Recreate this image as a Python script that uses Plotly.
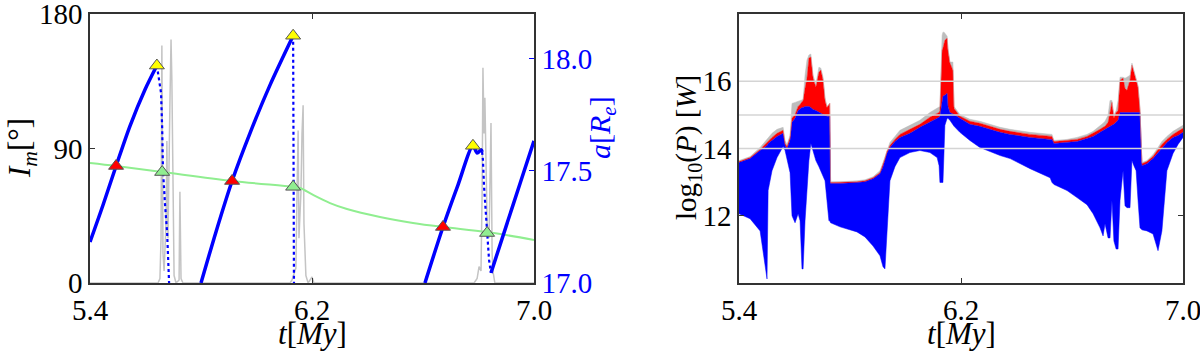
import plotly.graph_objects as go

# ---------------- Left panel data ----------------
# blue curve (semi-major axis a [R_e]) - rising branches
blue_rise_t = [5.400, 5.447, 5.494, 5.544, 5.598, 5.641, None,
               5.800, 5.854, 5.912, 5.977, 6.049, 6.132, None,
               6.607, 6.672, 6.726, 6.780, 6.795, 6.810, 6.813, None,
               6.845, 6.900, 6.950, 7.000]
blue_rise_a = [17.183, 17.348, 17.522, 17.700, 17.862, 17.970, None,
               17.000, 17.228, 17.455, 17.670, 17.884, 18.103, None,
               17.000, 17.250, 17.437, 17.612, 17.580, 17.594, 17.585, None,
               17.045, 17.255, 17.445, 17.634]
# blue curve - fast falling branches (dotted)
blue_fall_t = [5.641, 5.656, 5.660, 5.663, 5.670, 5.678, 5.685, None,
               6.132, 6.135, None,
               6.813, 6.816, 6.820, 6.827, 6.831, 6.838, 6.845]
blue_fall_a = [17.970, 17.848, 17.696, 17.504, 17.357, 17.223, 17.000, None,
               18.103, 17.000, None,
               17.585, 17.549, 17.429, 17.281, 17.214, 17.103, 17.045]

# green curve (I_m in degrees)
green_t = [5.400, 5.494, 5.660, 5.912, 6.132, 6.157, 6.204, 6.265, 6.326,
           6.445, 6.564, 6.672, 6.831, 7.000]
green_deg = [80.3, 78.3, 74.3, 68.3, 64.3, 63.6, 58.9, 53.5, 49.5,
             44.2, 40.2, 37.5, 34.1, 28.8]

# gray spikes (degrees)
gray_t = [5.400, 5.645, 5.652, 5.656, 5.659, 5.663, 5.667, 5.674, 5.677, 5.681,
          5.688, 5.692, 5.695, 5.699, 5.703, 5.710, 5.721, 5.724, 5.728, 5.735,
          6.121, 6.128, 6.142, 6.146, 6.150, 6.153, 6.160, 6.164, 6.168, 6.171,
          6.178, 6.186, 6.200, 6.207,
          6.784, 6.795, 6.802, 6.809, 6.813, 6.816, 6.820, 6.823, 6.827, 6.831,
          6.838, 6.841, 6.845, 6.849, 6.852, 6.859, 7.000]
gray_deg = [0, 0, 3, 30, 159, 20, 8, 40, 95, 30,
            120, 163, 136, 40, 5, 0, 2, 61, 3, 0,
            0, 2, 10, 60, 102, 30, 60, 100, 119, 40,
            5, 0, 4, 0,
            0, 3, 11, 8, 60, 144, 100, 124, 90, 40,
            30, 80, 107, 20, 8, 0, 0]

# triangle markers (in a-units)
red_tri_t = [5.494, 5.912, 6.672]
red_tri_a = [17.522, 17.455, 17.250]
yellow_tri_t = [5.641, 6.132, 6.780]
yellow_tri_a = [17.970, 18.103, 17.612]
green_tri_t = [5.660, 6.132, 6.831]
green_tri_a = [17.495, 17.429, 17.223]

# ---------------- Right panel data ----------------
P_T = [5.400, 5.440, 5.476, 5.494, 5.501, 5.505, 5.519, 5.537, 5.559, 5.566,
       5.573, 5.584, 5.591, 5.602, 5.613, 5.620, 5.627, 5.631, 5.638, 5.645,
       5.652, 5.659, 5.667, 5.677, 5.688, 5.695, 5.703, 5.710, 5.717, 5.724,
       5.727, 5.730, 5.764, 5.825, 5.854, 5.883, 5.908, 5.919, 5.926, 5.933,
       5.944, 5.962, 5.980, 6.016, 6.052, 6.088, 6.114, 6.121, 6.124, 6.132,
       6.135, 6.139, 6.142, 6.150, 6.153, 6.160, 6.168, 6.171, 6.175, 6.196,
       6.232, 6.268, 6.341, 6.377, 6.449, 6.521, 6.528, 6.535, 6.582, 6.618,
       6.654, 6.676, 6.701, 6.712, 6.719, 6.730, 6.737, 6.744, 6.751, 6.759,
       6.766, 6.773, 6.784, 6.791, 6.798, 6.809, 6.816, 6.823, 6.831, 6.838,
       6.845, 6.852, 6.870, 6.892, 6.910, 6.924, 6.942, 6.964, 6.982, 7.000]
P_LOW = [12.06, 11.91, 11.55, 10.57, 10.12, 12.75, 13.34, 13.73, 14.06, 13.94,
         13.64, 13.28, 12.00, 11.79, 12.06, 11.85, 10.42, 10.42, 11.85, 12.84,
         13.64, 14.15, 13.94, 13.64, 13.46, 13.34, 13.19, 13.04, 12.45, 11.85,
         11.85, 11.79, 11.67, 11.52, 11.37, 11.10, 10.81, 10.48, 10.42, 11.55,
         13.04, 13.46, 13.73, 13.88, 13.94, 13.88, 13.73, 13.49, 12.99, 12.99,
         12.99, 13.94, 14.69, 14.90, 14.90, 14.84, 14.72, 14.69, 14.66, 14.48,
         14.24, 14.03, 13.79, 13.70, 13.40, 13.13, 12.99, 12.93, 12.75, 12.54,
         12.33, 12.06, 11.64, 11.40, 11.76, 11.34, 11.34, 12.45, 11.25, 11.01,
         11.01, 12.45, 13.34, 12.30, 12.24, 12.24, 13.64, 13.49, 13.34, 12.45,
         11.64, 11.58, 11.55, 11.46, 10.96, 11.55, 13.34, 13.85, 14.12, 14.33]
P_BLUE = [13.58, 13.70, 13.94, 14.06, 14.09, 14.15, 14.24, 14.36, 14.45, 14.09,
          14.00, 14.24, 14.78, 14.90, 15.13, 15.19, 15.22, 15.22, 15.25, 15.25,
          15.25, 15.22, 15.16, 15.13, 15.07, 15.04, 15.01, 14.99, 14.96, 14.96,
          14.96, 12.96, 12.96, 12.99, 13.01, 13.10, 13.25, 13.46, 13.64, 13.85,
          14.03, 14.21, 14.33, 14.45, 14.63, 14.78, 14.90, 14.93, 14.96, 15.49,
          15.55, 15.58, 15.58, 15.64, 15.25, 15.07, 15.04, 15.04, 15.01, 14.90,
          14.72, 14.66, 14.48, 14.42, 14.33, 14.27, 14.27, 14.15, 14.18, 14.21,
          14.30, 14.36, 14.48, 14.54, 14.57, 14.63, 14.66, 14.69, 14.72, 14.78,
          14.84, 15.07, 15.07, 15.07, 15.07, 15.07, 15.07, 15.07, 15.07, 15.07,
          15.07, 13.49, 13.55, 13.70, 13.88, 14.03, 14.18, 14.33, 14.39, 14.48]
P_RED = [13.61, 13.73, 13.97, 14.12, 14.18, 14.24, 14.33, 14.45, 14.54, 14.15,
         14.06, 14.33, 14.90, 15.01, 15.25, 15.31, 15.37, 15.43, 15.79, 16.09,
         16.69, 16.72, 16.09, 15.82, 16.27, 16.33, 16.03, 15.43, 15.22, 15.34,
         15.34, 12.99, 12.99, 13.01, 13.04, 13.13, 13.28, 13.52, 13.70, 13.91,
         14.09, 14.27, 14.42, 14.57, 14.72, 14.93, 15.04, 15.07, 15.13, 16.93,
         16.99, 17.10, 17.22, 17.28, 16.93, 16.54, 16.42, 16.33, 15.19, 14.96,
         14.81, 14.75, 14.57, 14.51, 14.42, 14.36, 14.36, 14.21, 14.24, 14.27,
         14.36, 14.45, 14.57, 14.63, 14.66, 14.78, 15.13, 15.37, 14.90, 15.07,
         15.13, 16.03, 16.09, 15.79, 15.73, 16.03, 16.48, 16.27, 16.09, 15.82,
         15.13, 13.55, 13.61, 13.76, 13.97, 14.12, 14.27, 14.42, 14.51, 14.60]
P_GRAY = [13.64, 13.76, 14.03, 14.21, 14.27, 14.33, 14.45, 14.57, 14.63, 14.24,
          14.12, 14.39, 15.34, 15.37, 15.40, 15.43, 15.43, 15.46, 16.18, 16.63,
          16.78, 16.81, 16.18, 15.91, 16.42, 16.39, 16.12, 15.52, 15.25, 15.34,
          15.34, 13.01, 13.01, 13.04, 13.07, 13.16, 13.34, 13.58, 13.76, 13.97,
          14.18, 14.36, 14.54, 14.69, 14.84, 15.07, 15.19, 15.22, 15.25, 17.37,
          17.46, 17.46, 17.43, 17.34, 16.99, 16.57, 16.57, 16.57, 15.25, 15.01,
          14.87, 14.81, 14.63, 14.57, 14.48, 14.42, 14.42, 14.24, 14.27, 14.33,
          14.42, 14.51, 14.66, 14.75, 14.81, 14.99, 15.43, 15.43, 14.99, 15.13,
          15.43, 16.12, 16.12, 16.09, 16.12, 16.18, 16.54, 16.33, 16.12, 15.88,
          15.19, 13.58, 13.64, 13.82, 14.03, 14.21, 14.36, 14.51, 14.60, 14.69]
grid_levels = [14, 15, 16]

x_ticks = [5.4, 6.2, 7.0]
x_ticktext = ["5.4", "6.2", "7.0"]
im_ticks = [0, 90, 180]
im_ticktext = ["0", "90", "180"]
a_ticks = [17.0, 17.5, 18.0]
a_ticktext = ["17.0", "17.5", "18.0"]
p_ticks = [12, 14, 16]

BLUE = "#0000ff"
FONT = "Liberation Serif"
TICKFONT = dict(family=FONT, size=29, color="black")

# page layout: body margin is removed by post_script, so the figure fills the page
W, H = 1200, 355


def px_x(p):
    return p / W


def px_y(p):
    return 1 - p / H


fig = go.Figure()

# left panel
fig.add_trace(go.Scatter(x=gray_t, y=gray_deg, mode="lines", xaxis="x", yaxis="y",
                         line=dict(color="#c4c4c4", width=1.5), showlegend=False))
fig.add_trace(go.Scatter(x=green_t, y=green_deg, mode="lines", xaxis="x", yaxis="y",
                         line=dict(color="#90ee90", width=2, shape="spline"), showlegend=False))
fig.add_trace(go.Scatter(x=blue_fall_t, y=blue_fall_a, mode="lines", xaxis="x", yaxis="y2",
                         line=dict(color=BLUE, width=2.2, dash="dot"), showlegend=False))
fig.add_trace(go.Scatter(x=blue_rise_t, y=blue_rise_a, mode="lines", xaxis="x", yaxis="y2",
                         line=dict(color=BLUE, width=3.5, shape="spline", smoothing=0.8),
                         showlegend=False))
for tt, aa, col in [(red_tri_t, red_tri_a, "#ff0000"),
                    (yellow_tri_t, yellow_tri_a, "#ffff00"),
                    (green_tri_t, green_tri_a, "#90ee90")]:
    fig.add_trace(go.Scatter(x=tt, y=aa, mode="markers", xaxis="x", yaxis="y2",
                             marker=dict(symbol="triangle-up", size=13, color=col,
                                         line=dict(color="#555555", width=1)),
                             showlegend=False))

# right panel: stacked envelopes
fig.add_trace(go.Scatter(x=P_T, y=P_LOW, mode="lines", xaxis="x2", yaxis="y3",
                         line=dict(color=BLUE, width=0.5), showlegend=False))
fig.add_trace(go.Scatter(x=P_T, y=P_BLUE, mode="lines", xaxis="x2", yaxis="y3", fill="tonexty",
                         fillcolor=BLUE, line=dict(color=BLUE, width=0.5), showlegend=False))
fig.add_trace(go.Scatter(x=P_T, y=P_RED, mode="lines", xaxis="x2", yaxis="y3", fill="tonexty",
                         fillcolor="#ff0000", line=dict(color="#ff0000", width=0.5), showlegend=False))
fig.add_trace(go.Scatter(x=P_T, y=P_GRAY, mode="lines", xaxis="x2", yaxis="y3", fill="tonexty",
                         fillcolor="#bdbdbd", line=dict(color="#bdbdbd", width=0.5), showlegend=False))

for g in grid_levels:
    fig.add_shape(type="line", xref="x2 domain", yref="y3", x0=0, x1=1, y0=g, y1=g,
                  line=dict(color="#d4d4d4", width=1.5), layer="above")

axis_common = dict(showline=True, linecolor="#333333", linewidth=1.5, ticks="inside",
                   ticklen=5, tickcolor="#333333", showgrid=False, zeroline=False,
                   tickfont=TICKFONT, automargin=False, ticklabeloverflow="allow")

ydom = [px_y(283), px_y(14)]
fig.update_layout(
    width=W, height=H, margin=dict(l=0, r=0, t=0, b=0, pad=0),
    paper_bgcolor="white", plot_bgcolor="white",
    xaxis=dict(domain=[px_x(90), px_x(534)], range=[5.4, 7.0], anchor="y",
               tickvals=x_ticks, ticktext=x_ticktext, mirror="ticks", **axis_common),
    yaxis=dict(domain=ydom, range=[0, 180.001], anchor="x",
               tickvals=im_ticks, ticktext=im_ticktext, mirror=True, **axis_common),
    yaxis2=dict(range=[17.0, 18.2], overlaying="y", side="right", anchor="x",
                tickvals=a_ticks, ticktext=a_ticktext, showline=True, linecolor="#333333",
                linewidth=1.5, ticks="inside", ticklen=5, tickcolor=BLUE,
                showgrid=False, zeroline=False, automargin=False, ticklabeloverflow="allow",
                tickfont=dict(family=FONT, size=29, color=BLUE)),
    xaxis2=dict(domain=[px_x(739), px_x(1183)], range=[5.4, 7.0], anchor="y3",
                tickvals=x_ticks, ticktext=x_ticktext, mirror="ticks", **axis_common),
    yaxis3=dict(domain=ydom, range=[10, 18], anchor="x2",
                tickvals=p_ticks, mirror="ticks", **axis_common),
)

ann = [
    dict(text="<i>I<sub>m</sub></i>[°]", x=px_x(22), y=px_y(148), textangle=-90,
         font=dict(family=FONT, size=31, color="black")),
    dict(text="<i>a</i>[<i>R<sub>e</sub></i>]", x=px_x(602), y=px_y(128), textangle=-90,
         font=dict(family=FONT, size=30, color=BLUE)),
    dict(text="<i>t</i>[<i>My</i>]", x=px_x(312), y=px_y(333),
         font=dict(family=FONT, size=31, color="black")),
    dict(text="<i>t</i>[<i>My</i>]", x=px_x(961), y=px_y(333),
         font=dict(family=FONT, size=31, color="black")),
    dict(text="log<sub>10</sub>(<i>P</i>) [<i>W</i>]", x=px_x(688), y=px_y(148), textangle=-90,
         font=dict(family=FONT, size=29, color="black")),
]
for a in ann:
    fig.add_annotation(xref="paper", yref="paper", showarrow=False,
                       xanchor="center", yanchor="middle", **a)

fig.write_html("out.html", config={"displayModeBar": False},
               post_script="document.body.style.margin='0';document.body.style.overflow='hidden';")
